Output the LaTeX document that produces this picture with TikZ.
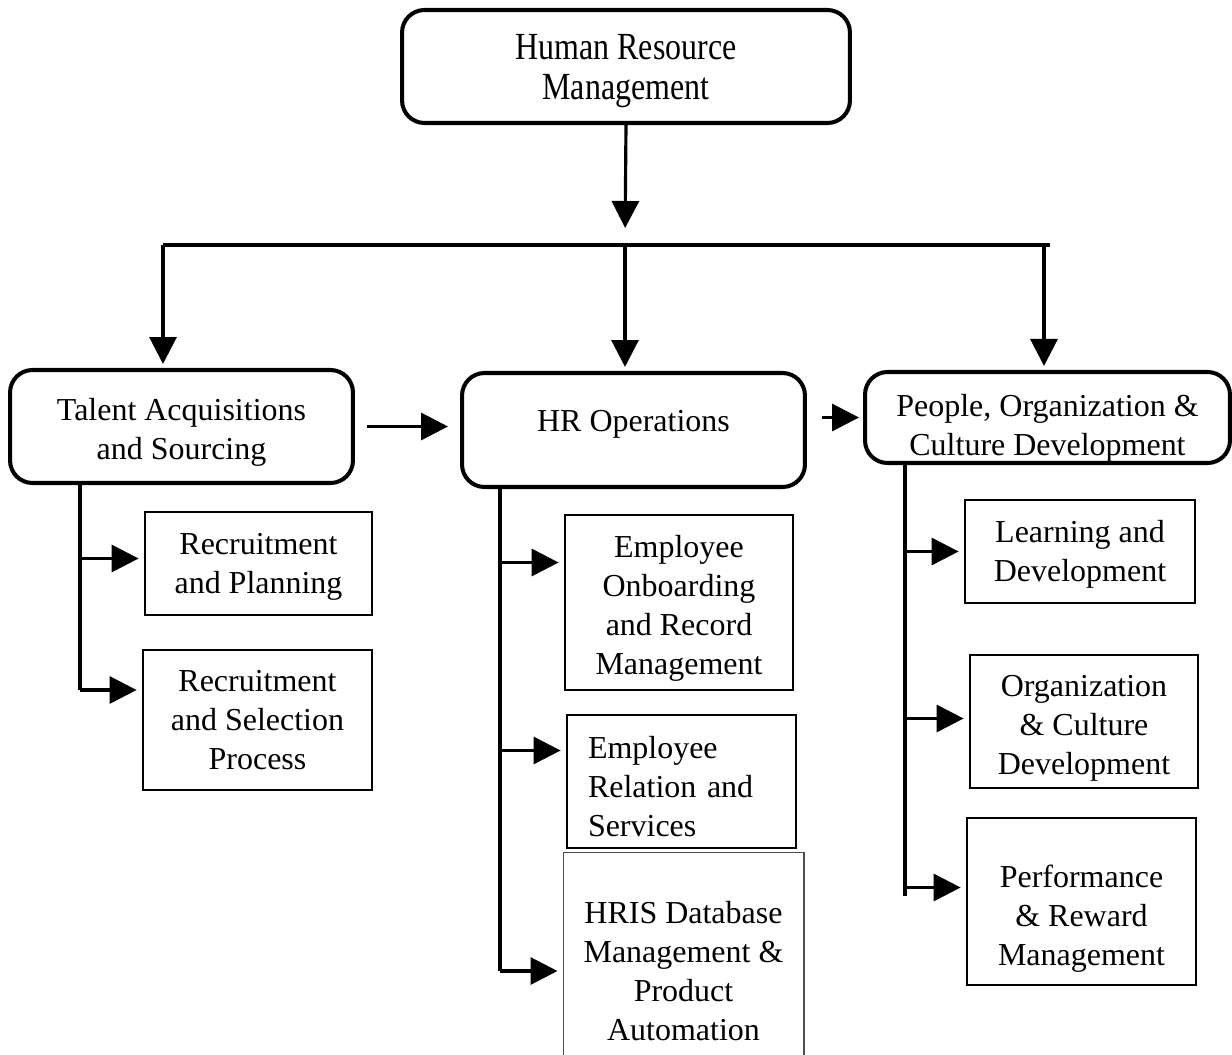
\documentclass[tikz,border=0pt]{standalone}
\usepackage{fontspec}
\setmainfont{Liberation Serif}
\usepackage{graphicx}
\usetikzlibrary{arrows.meta,calc}

\begin{document}
\begin{tikzpicture}[x=0.02cm, y=-0.02cm,
    font=\fontsize{18.2}{22.2}\selectfont,
    mainbox/.style={draw, rounded corners=0.45cm, line width=2.3pt, align=center, inner sep=0pt},
    subbox/.style={draw, line width=1.6pt, align=center, inner sep=0pt},
    arr/.style={line width=1.8pt, -{Triangle[length=0.54cm, width=0.54cm]}},
    link/.style={line width=1.8pt}]
    \useasboundingbox (0,0) rectangle (1232,1055);

    % Top box
    \node[mainbox, minimum width=8.96cm, minimum height=2.26cm] (hrm) at (626,66.5)
        {\rule{0pt}{20pt}\scalebox{1}[1.2]{Human Resource}\\[0.5pt]\scalebox{1}[1.2]{Management}};

    % Main functions
    \node[mainbox, minimum width=6.86cm, minimum height=2.26cm] (talent) at (181.5,426.5) {\rule{0pt}{19pt}Talent Acquisitions\\and Sourcing};
    \node[mainbox, minimum width=6.86cm, minimum height=2.28cm] (hrops) at (633.5,430) {HR Operations\rule[-10pt]{0pt}{0pt}};
    \node[mainbox, minimum width=7.3cm, minimum height=1.82cm] (people) at (1047.5,417.5)
        {\raisebox{-6pt}[\height][\depth]{\begin{tabular}{@{}c@{}}People, Organization \&\\Culture Development\end{tabular}}};

    % Sub functions
    \node[subbox, minimum width=4.54cm, minimum height=2.06cm] (rp) at (258.5,563.5) {\rule{0pt}{16pt}Recruitment\\and Planning};
    \node[subbox, minimum width=4.58cm, minimum height=2.8cm] (rs) at (257.5,720) {Recruitment\\and Selection\\Process};
    \node[subbox, minimum width=4.56cm, minimum height=3.5cm] (eo) at (679,602.5) {\rule{0pt}{19pt}Employee\\Onboarding\\and Record\\Management};
    \node[subbox, minimum width=4.58cm, minimum height=2.66cm, text width=3.74cm, align=left] (er) at (681.5,781.5) {\rule{0pt}{18pt}Employee\\Relation and\\Services};
    \node[subbox, line width=0.6pt, draw=black!70, minimum width=4.82cm, minimum height=4.76cm] (hris) at (683.5,971) {HRIS Database\\Management \&\\Product\\Automation};
    \node[subbox, minimum width=4.6cm, minimum height=2.06cm] (ld) at (1080,551.5) {\rule{0pt}{16pt}Learning and\\Development};
    \node[subbox, minimum width=4.56cm, minimum height=2.66cm] (oc) at (1084,721.5) {\rule{0pt}{20pt}Organization\\\& Culture\\Development};
    \node[subbox, minimum width=4.58cm, minimum height=3.34cm] (pr) at (1081.5,901.5) {\rule{0pt}{32pt}Performance\\\& Reward\\Management};

    % Bus from the top box
    \coordinate (busL) at (163,245);
    \coordinate (busM) at (625,245);
    \coordinate (busR) at (1044,245);
    \coordinate (busE) at (1050,245);
    \draw[arr, shorten >=0.34cm] (hrm.south) -- (busM);
    \draw[link] (busL) -- (busE);
    \foreach \src/\dst in {busL/talent, busM/hrops, busR/people}
        \draw[arr, shorten >=0.08cm] (\src) -- (\src |- \dst.north);

    % Arrows between main functions
    \draw[arr, shorten <=0.24cm, shorten >=0.24cm] (talent.east) -- (talent.east -| hrops.west);
    \draw[arr, shorten <=0.3cm, shorten >=0.08cm] (hrops.east |- people.west) -- (people.west);

    % Spines and where the branch arrows meet the boxes
    \coordinate (tsp) at (80,0);
    \coordinate (hsp) at (500,0);
    \coordinate (psp) at (905,0);
    \coordinate (rp-in) at ($(rp.west)+(0,-5)$);
    \coordinate (rs-in) at ($(rs.west)+(0,-30)$);
    \coordinate (eo-in) at ($(eo.west)+(0,-40)$);
    \coordinate (er-in) at ($(er.west)+(0,-31)$);
    \coordinate (hris-in) at (hris.west);
    \coordinate (ld-in) at (ld.west);
    \coordinate (oc-in) at ($(oc.west)+(0,-3)$);
    \coordinate (pr-in) at ($(pr.west)+(0,-14)$);
    \draw[link] (talent.south -| tsp) -- (tsp |- rs-in);
    \draw[link] (hrops.south -| hsp) -- (hsp |- hris-in);
    \draw[link] (people.south -| psp) -- (psp |- pr-in) -- ++(0,8);

    % Branch arrows
    \foreach \bx in {rp, rs}
        \draw[arr, shorten >=0.1cm] (tsp |- \bx-in) -- (\bx-in);
    \foreach \bx in {eo, er, hris}
        \draw[arr, shorten >=0.1cm] (hsp |- \bx-in) -- (\bx-in);
    \foreach \bx in {ld, oc, pr}
        \draw[arr, shorten >=0.1cm] (psp |- \bx-in) -- (\bx-in);
\end{tikzpicture}
\end{document}
